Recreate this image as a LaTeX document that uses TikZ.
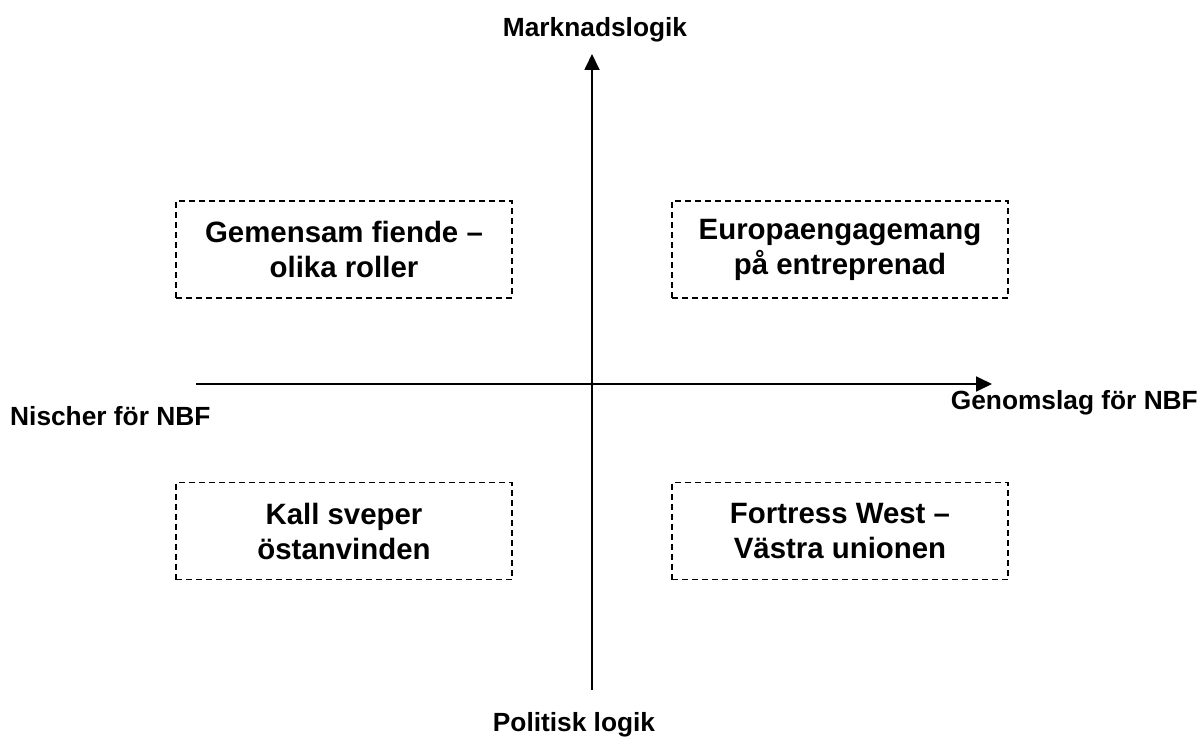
\documentclass[tikz,border=0pt]{standalone}
\usepackage{fontspec}
\setmainfont{Liberation Sans}
\usetikzlibrary{arrows.meta}
\begin{document}
\begin{tikzpicture}[x=1pt,y=-1pt,
  axis/.style={line width=1.8pt,-{Triangle[width=15pt,length=16pt]}},
  scen/.style={draw,line width=1.2pt,dash pattern=on 6pt off 4pt,
    minimum width=336pt,minimum height=97pt,align=center,
    font=\bfseries\fontsize{29.4}{35}\selectfont},
  lab/.style={font=\bfseries\fontsize{26.3}{30}\selectfont,inner sep=0pt}]
\useasboundingbox (0,0) rectangle (1201,738);
% axes
\coordinate (ybot) at (592,690);
\coordinate (ytop) at (592,54);
\coordinate (xl) at (196,384);
\coordinate (xr) at (992,384);
\draw[axis] (ybot) -- (ytop);
\draw[axis] (xl) -- (xr);
% axis labels
\node[lab,anchor=base] (top) at (595,37) {Marknadslogik};
\node[lab,anchor=base] (bot) at (574,731) {Politisk logik};
\node[lab,anchor=base west] (left) at (10,425) {Nischer för NBF};
\node[lab,anchor=base east] (right) at (1198,409) {Genomslag för NBF};
% scenario boxes
\node[scen] (tl) at (344,249.5) {Gemensam fiende –\\olika roller};
\node[scen] (tr) at (840,249.5) {Europaengagemang\\på entreprenad};
\node[scen] (bl) at (344,531) {Kall sveper\\östanvinden};
\node[scen] (br) at (840,531) {Fortress West –\\Västra unionen};
\end{tikzpicture}
\end{document}
